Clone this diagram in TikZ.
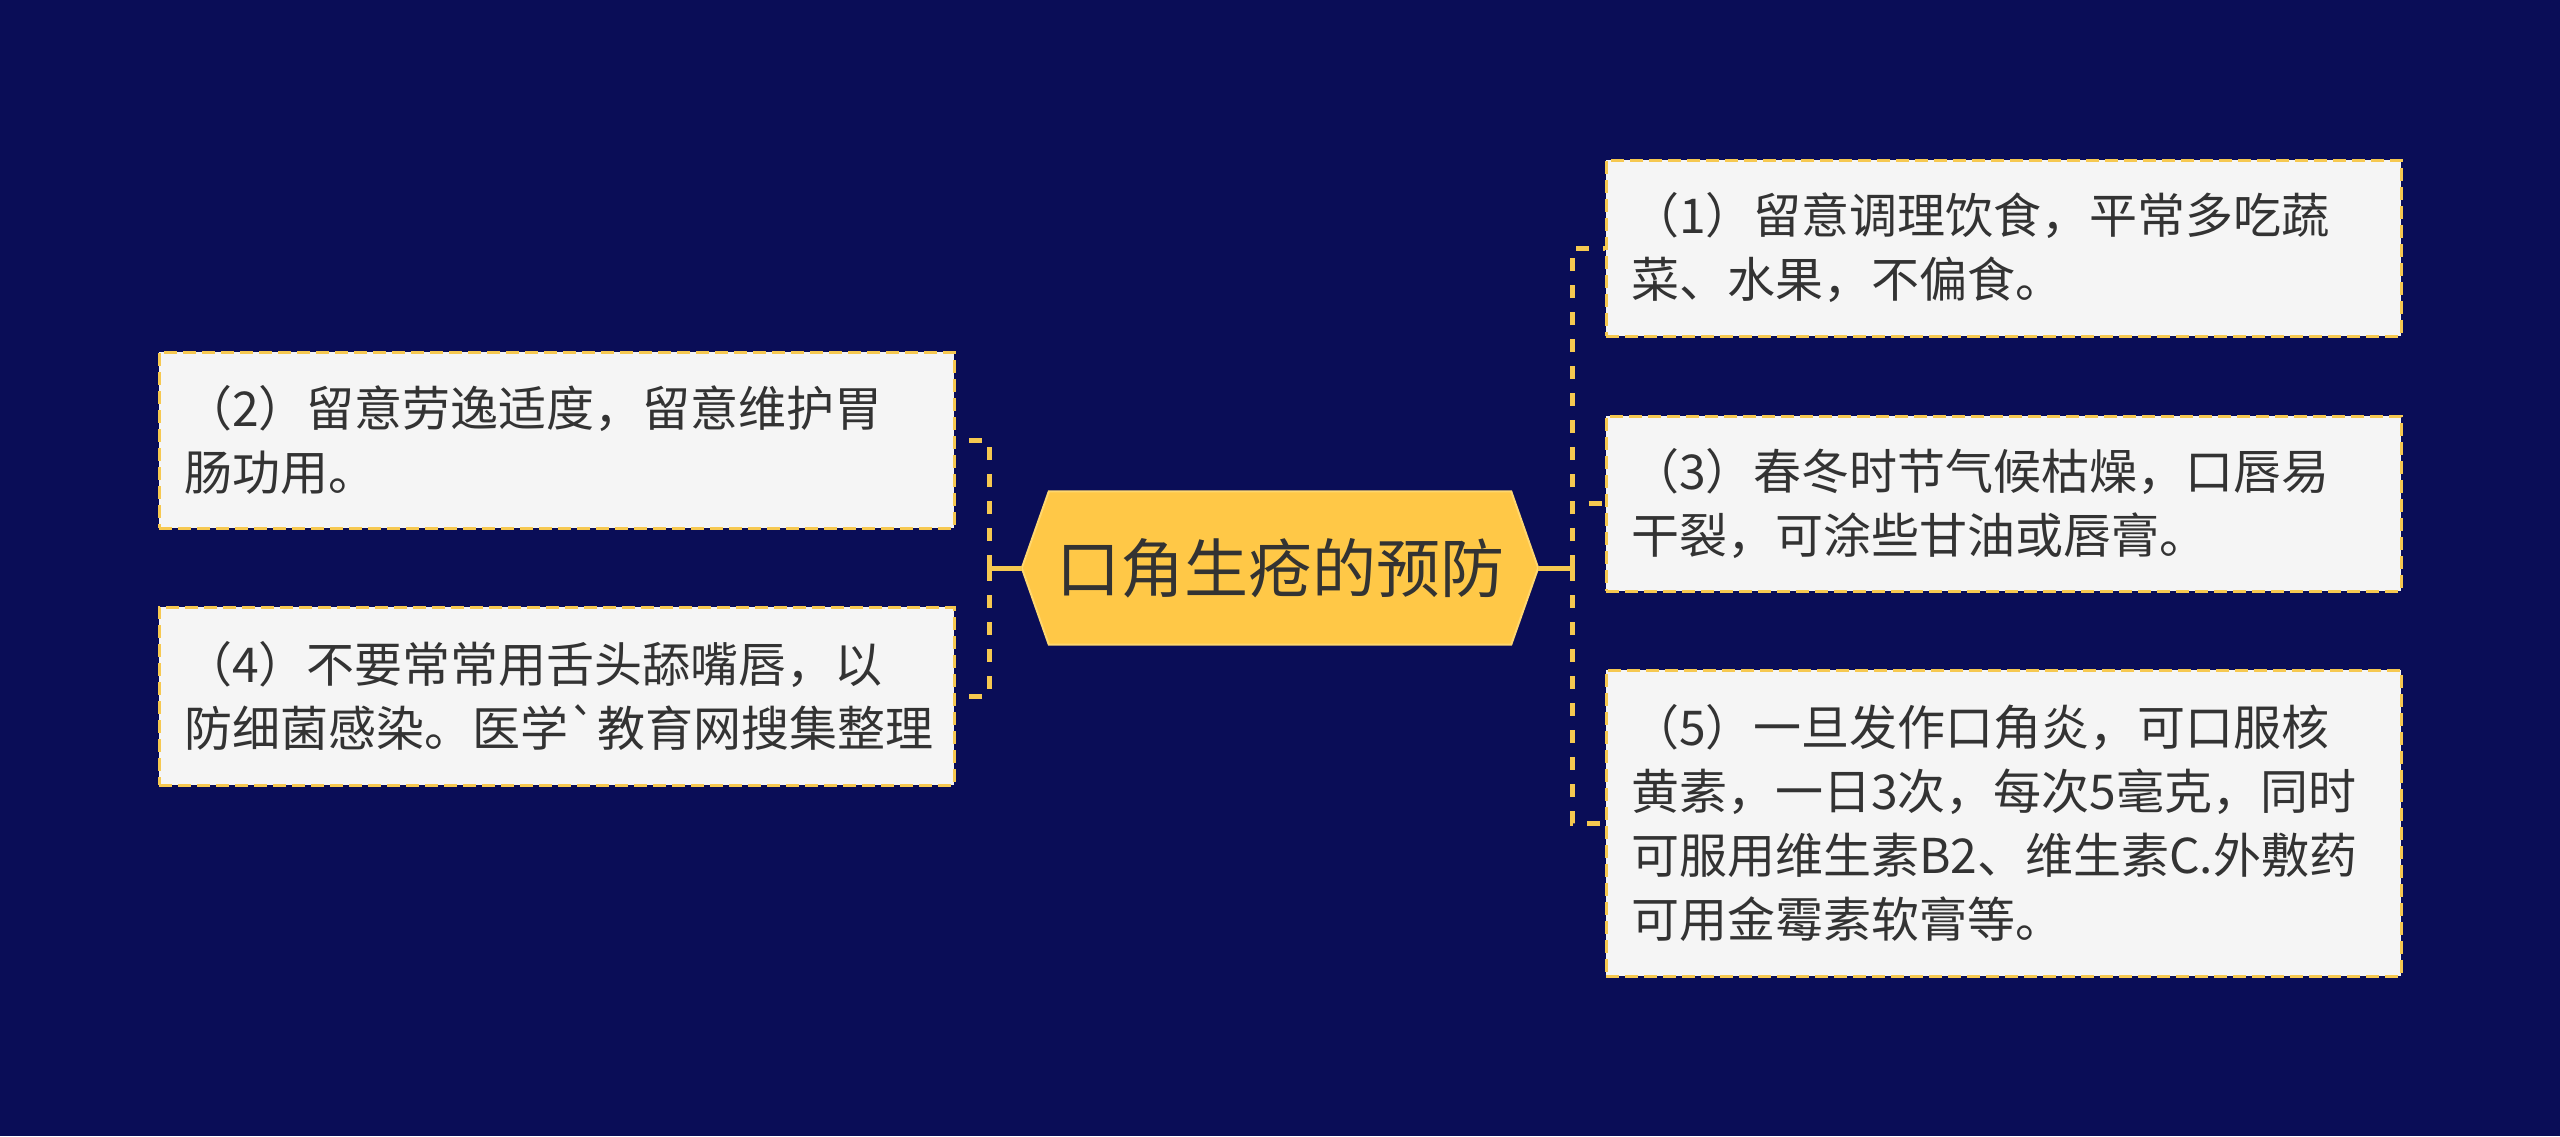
\documentclass[tikz,border=0pt]{standalone}
\usepackage{fontspec}
\newfontfamily\cjk{Noto Sans CJK SC}[Ligatures=TeXOff]
\usetikzlibrary{backgrounds}
\definecolor{bgc}{HTML}{0A0D57}
\definecolor{hexY}{HTML}{FFC847}
\definecolor{hexB}{HTML}{FFD76E}
\definecolor{lnY}{HTML}{F6C850}
\definecolor{boxF}{HTML}{F5F5F5}
\definecolor{txt}{HTML}{333333}
\tikzset{
  hexnode/.style={minimum width=516pt, minimum height=153pt, inner sep=0pt, text=txt,
    font=\cjk\fontsize{64}{64}\selectfont},
  infobox/.style={draw=lnY, dash pattern=on 13pt off 6pt, line width=3pt, fill=boxF, text=txt,
    text width=745pt, inner xsep=25pt, inner ysep=0pt, align=left,
    font=\cjk\fontsize{48}{64}\selectfont},
  link/.style={draw=lnY, line width=5pt},
  dlink/.style={draw=lnY, line width=5pt, dash pattern=on 13pt off 14pt},
}
\begin{document}
\begin{tikzpicture}[x=1pt,y=-1pt]
\useasboundingbox (0,0) rectangle (2560,1136);
\begin{scope}[on background layer]
  \fill[bgc] (0,0) rectangle (2560,1136);
\end{scope}

\node[hexnode] (c) at (1280,568) {口角生疮的预防};
\begin{scope}[on background layer]
  \draw[fill=hexY, draw=hexB, line width=2pt] (c.west) -- ([xshift=27pt]c.north west) -- ([xshift=-27pt]c.north east)
    -- (c.east) -- ([xshift=-27pt]c.south east) -- ([xshift=27pt]c.south west) -- cycle;
\end{scope}

\node[infobox, minimum height=176pt] (b1) at (2003.5,248) {（1）留意调理饮食，平常多吃蔬\\菜、水果，不偏食。};
\node[infobox, minimum height=175pt] (b3) at (2003.5,503.5) {（3）春冬时节气候枯燥，口唇易\\干裂，可涂些甘油或唇膏。};
\node[infobox, minimum height=306pt] (b5) at (2003.5,823) {（5）一旦发作口角炎，可口服核\\黄素，一日3次，每次5毫克，同时\\可服用维生素B2、维生素C.外敷药\\可用金霉素软膏等。};
\node[infobox, minimum height=176pt] (b2) at (556.5,440) {（2）留意劳逸适度，留意维护胃\\肠功用。};
\node[infobox, minimum height=178pt] (b4) at (556.5,696) {（4）不要常常用舌头舔嘴唇，以\\防细菌感染。医学`教育网搜集整理};

\coordinate (rj) at (1572,568);
\coordinate (lj) at (989,568);
\draw[link] (c.east) -- (rj);
\draw[link] (c.west) -- (lj);
\draw[dlink] (rj) |- (b1.west);
\draw[dlink] (rj) |- (b3.west);
\draw[dlink] (rj) |- (b5.west);
\draw[dlink] (lj) |- (b2.east);
\draw[dlink] (lj) |- (b4.east);
\end{tikzpicture}
\end{document}
